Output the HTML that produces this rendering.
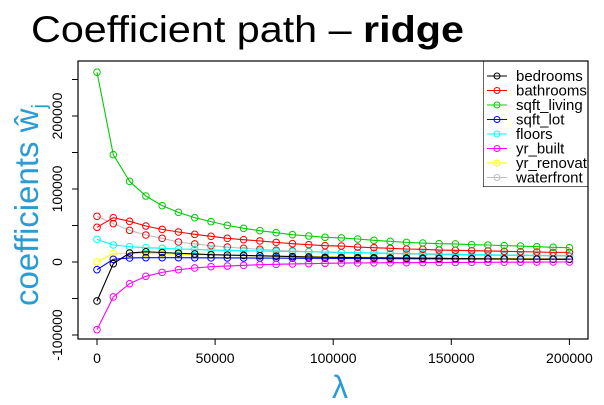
<!DOCTYPE html>
<html><head><meta charset="utf-8"><style>
body{margin:0;background:#fff;width:604px;height:405px;overflow:hidden}
svg{display:block}
</style></head><body>
<svg id="chart" width="604" height="405" font-family="Liberation Sans, sans-serif">
<text x="31" y="42" font-size="37" fill="#000" textLength="433" lengthAdjust="spacingAndGlyphs">Coefficient path – <tspan font-weight="bold">ridge</tspan></text>
<text transform="translate(38,205) rotate(-90)" text-anchor="middle" font-size="33" fill="#2a9bd3">coefficients ŵ<tspan font-size="20" dy="8">j</tspan></text>
<text x="340" y="398" text-anchor="middle" font-size="32" fill="#2a9bd3">λ</text>
<defs><clipPath id="lc"><rect x="483" y="61" width="105" height="126"/></clipPath></defs>
<g id="axes"></g>
<g id="series"></g>
<g id="legend" clip-path="url(#lc)"></g>
</svg>
<script>
const lambdaMax = 200000;
const nPoints = 30;
const seriesNames = ["bedrooms","bathrooms","sqft_living","sqft_lot","floors","yr_built","yr_renovat","waterfront"];
const seriesColors = ["#000000","#ff0000","#00cc00","#0000ff","#00ffff","#ff00ff","#ffff00","#bebebe"];
const bedrooms = [-53.4,-2.3,12.3,14,13,12,11,10,9.5,9,8.5,8,7.5,7,6.5,6.2,6,5.8,5.6,5.4,5.2,5,4.8,4.6,4.4,4.2,4,3.8,3.7,3.6];
const bathrooms = [47.5,60.7,55.7,49.3,44.7,41.1,37.9,35.2,32.4,30.6,28.8,26.9,25.1,23.7,22.4,21.9,20.5,19.6,18.7,17.8,17.4,16.4,16.0,15.5,15.1,14.6,14.2,13.7,13.2,13.2];
const sqftLiving = [260,147,110.5,90.4,77.2,68,60.7,55.3,50.2,46.1,42.9,40.2,37.4,35.6,33.8,32.9,31.5,29.7,28.3,26.9,26.0,25.1,24.7,23.7,23.3,22.4,21.9,21.0,20.1,19.6];
const sqftLot = [-10.5,3.7,5.5,5.9,5.9,5.9,5.8,5.7,5.6,5.5,5.4,5.3,5.2,5.1,5,4.9,4.8,4.7,4.6,4.5,4.4,4.3,4.2,4.1,4.0,4.0,3.9,3.9,3.8,3.8];
const floors = [31,23.3,21,19.6,18.7,17.8,17.4,16.4,16,15.5,15.1,14.6,14.2,14.2,13.7,13.2,12.8,12.4,12,11.6,11.2,10.8,10.5,10.2,9.9,9.6,9.4,9.1,8.9,8.7];
const yrBuilt = [-92.7,-47.9,-29.7,-19.6,-14.2,-10.5,-8.2,-6.4,-5.5,-4.6,-3.7,-3.2,-2.7,-2.3,-1.8,-1.5,-1.3,-1.1,-1,-0.9,-0.8,-0.7,-0.6,-0.5,-0.4,-0.3,-0.2,-0.1,0,0];
const yrRenovated = [0,11.4,11.9,11.9,11.4,10.5,10,9.6,9.1,8.7,8.7,8.2,7.8,7.8,7.3,7,6.8,6.5,6.3,6,5.8,5.6,5.4,5.2,5,4.9,4.7,4.6,4.4,4.3];
const waterfront = [62.6,52.5,43.4,37,32.4,27.4,24.7,22.4,20.5,18.7,17.4,16,15.1,14.2,13.2,13,12.5,12,11.5,11,10.5,10,9.8,9.5,9.2,9,8.8,8.5,8.3,8];
const xTicks = [0,50000,100000,150000,200000];
const yTicks = [-100000,0,100000,200000];
const yMinorTicks = [-100000,-50000,0,50000,100000,150000,200000,250000];

const NS="http://www.w3.org/2000/svg";
const X = v => 97 + v/50000*118.1;
const Y = v => 262 - v/50000*36.5;
function mk(tag, attrs, parent){const e=document.createElementNS(NS,tag);for(const k in attrs)e.setAttribute(k,attrs[k]);parent.appendChild(e);return e;}
const axes=document.getElementById('axes');
let r=mk('rect',{x:78,y:61,width:510,height:278,fill:'none',stroke:'#000','stroke-width':1.2},axes);


xTicks.forEach(t=>{
  let l=mk('line',{x1:X(t),x2:X(t),y1:339,y2:345,stroke:'#000'},axes);
  
  
  let tx=mk('text',{x:X(t),y:363,'text-anchor':'middle','font-size':14},axes);
  tx.textContent=t;
  
  
});
yMinorTicks.forEach(t=>{
  let l=mk('line',{x1:72,x2:78,y1:Y(t),y2:Y(t),stroke:'#000'},axes);
  
  
});
yTicks.forEach(t=>{
  let tx=mk('text',{transform:`translate(62,${Y(t)}) rotate(-90)`,'text-anchor':'middle','font-size':14},axes);
  tx.textContent=t;
  
  
});
const data=[bedrooms,bathrooms,sqftLiving,sqftLot,floors,yrBuilt,yrRenovated,waterfront];
const order=[7,6,4,3,0,5,1,2];
const sg=document.getElementById('series');
order.forEach(i=>{
  const g=mk('g',{},sg);
  
  
  const vals=data[i];
  const pts=vals.map((v,k)=>[X(k*lambdaMax/(nPoints-1)),Y(v*1000)]);
  const pl=mk('polyline',{points:pts.map(p=>p.join(',')).join(' '),fill:'none',stroke:seriesColors[i],'stroke-width':1.1},g);
  
  
  const cc = i===7 ? '#ff0000' : seriesColors[i];
  pts.forEach(p=>{
    const c=mk('circle',{cx:p[0],cy:p[1],r:3.3,fill:'none',stroke:cc,'stroke-width':1},g);
    
    
  });
});
const lg=document.getElementById('legend');
let lb=mk('rect',{x:483,y:61,width:105,height:126,fill:'#fff',stroke:'#000','stroke-width':1.2},lg);


seriesNames.forEach((n,i)=>{
  const y=76+i*14.5;
  const g=mk('g',{},lg);
  
  
  mk('line',{x1:487,x2:507,y1:y,y2:y,stroke:seriesColors[i]},g);
  mk('circle',{cx:497,cy:y,r:3,fill:'none',stroke:seriesColors[i]},g);
  const t=mk('text',{x:516,y:y+5,'font-size':15},g);
  t.textContent=n;
});
</script>
</body></html>
